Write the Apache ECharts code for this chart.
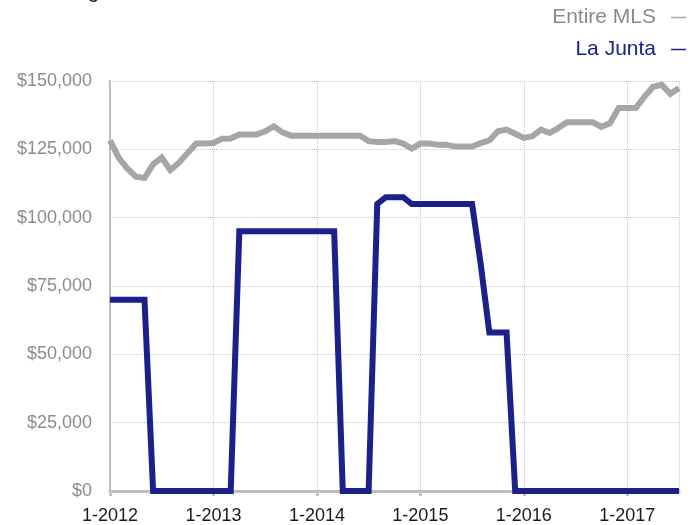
<!DOCTYPE html>
<html>
<head>
<meta charset="utf-8">
<script src="https://cdn.jsdelivr.net/npm/echarts@6/dist/echarts.min.js"></script>
<style>
html,body{margin:0;padding:0;background:#fff;}
#chart{width:693px;height:525px;}
</style>
</head>
<body>
<div id="chart"></div>
<script>
// Months 1-2012 through 7-2017
const years = [2012, 2013, 2014, 2015, 2016, 2017];
const lastMonthOf2017 = 7;
const seriesNames = ['Entire MLS', 'La Junta'];
const entireMLS = [
  128300, 122000, 118000, 115000, 114500, 119500, 122000, 117400, 120100, 123700, 127100, 127100,
  127300, 128900, 129000, 130400, 130400, 130400, 131600, 133400, 131200, 130000, 130000, 130000,
  130000, 130000, 130000, 130000, 130000, 130000, 128000, 127700, 127700, 128000, 127100, 125300,
  127100, 127100, 126700, 126700, 126000, 126000, 126000, 127300, 128300, 131600, 132200, 130700,
  129200, 129800, 132200, 131000, 132800, 134900, 134900, 134900, 134900, 133200, 134600, 140100,
  140100, 140200, 144300, 147900, 148600, 145300, 147400
];
const laJunta = [
  70000, 70000, 70000, 70000, 70000, 0, 0, 0, 0, 0, 0, 0,
  0, 0, 0, 95000, 95000, 95000, 95000, 95000, 95000, 95000, 95000, 95000,
  95000, 95000, 95000, 0, 0, 0, 0, 105000, 107500, 107500, 107500, 105000,
  105000, 105000, 105000, 105000, 105000, 105000, 105000, 83000, 58000, 58000, 58000, 0,
  0, 0, 0, 0, 0, 0, 0, 0, 0, 0, 0, 0,
  0, 0, 0, 0, 0, 0, 0
];
const yTicks = [0, 25000, 50000, 75000, 100000, 125000, 150000];

const categories = [];
years.forEach(y => {
  const n = (y === 2017) ? lastMonthOf2017 : 12;
  for (let m = 1; m <= n; m++) categories.push(m + '-' + y);
});

const FONT = '"Liberation Sans", Arial, Helvetica, sans-serif';
const GRAY = '#a6a6a6';
const NAVY = '#1c208b';
const lastIdx = categories.length - 1;

const chart = echarts.init(document.getElementById('chart'), null, {renderer: 'canvas'});
chart.setOption({
  animation: false,
  textStyle: {fontFamily: FONT},
  title: {
    text: 'Rolling 12-Month Calculation',
    left: 33, top: -23,
    textStyle: {fontFamily: FONT, fontSize: 20, fontWeight: 'normal', color: '#111'}
  },
  legend: {
    orient: 'vertical',
    right: 2, top: 2,
    align: 'right',
    icon: 'rect',
    itemWidth: 15, itemHeight: 1.5,
    itemGap: 11,
    data: [
      {name: seriesNames[0], textStyle: {color: '#8a8a8a'}},
      {name: seriesNames[1], textStyle: {color: NAVY}}
    ],
    textStyle: {fontFamily: FONT, fontSize: 21, padding: [0, 10, 0, 0]}
  },
  grid: {left: 110, right: 14, top: 81, bottom: 31, containLabel: false},
  xAxis: {
    type: 'category',
    data: categories,
    boundaryGap: false,
    axisLine: {show: true, lineStyle: {color: '#bdbdbd', width: 3}},
    axisTick: {show: true, interval: 11, length: 5, lineStyle: {color: '#c4c4c4', width: 3}},
    axisLabel: {interval: 11, color: '#1a1a1a', fontSize: 18, margin: 16, fontFamily: FONT},
    splitLine: {
      show: true,
      interval: function (index) { return index % 12 === 0 || index === lastIdx; },
      lineStyle: {color: '#c8c8c8', type: 'dotted', width: 1}
    }
  },
  yAxis: {
    type: 'value',
    min: yTicks[0], max: yTicks[yTicks.length - 1], interval: 25000,
    axisLine: {show: true, lineStyle: {color: '#bdbdbd', width: 2}},
    axisTick: {show: false},
    axisLabel: {
      color: '#8c8c8c', fontSize: 18, margin: 18, fontFamily: FONT,
      formatter: v => '$' + v.toLocaleString('en-US')
    },
    splitLine: {show: true, lineStyle: {color: '#c8c8c8', type: 'dotted', width: 1}}
  },
  series: [
    {
      name: seriesNames[0], type: 'line', data: entireMLS,
      symbol: 'none', color: GRAY,
      lineStyle: {color: GRAY, width: 6, join: 'miter'}
    },
    {
      name: seriesNames[1], type: 'line', data: laJunta,
      symbol: 'none', color: NAVY,
      lineStyle: {color: NAVY, width: 6, join: 'miter'}
    }
  ]
});
</script>
</body>
</html>
